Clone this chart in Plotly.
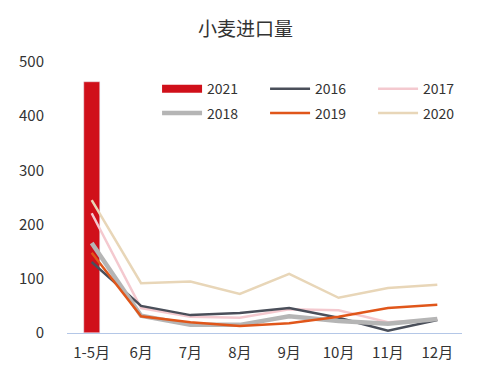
import plotly.graph_objects as go

categories = ["1-5月", "6月", "7月", "8月", "9月", "10月", "11月", "12月"]
bar_2021 = [463]
y2016 = [131, 50, 33, 37, 46, 28, 4, 24]
y2017 = [221, 46, 30, 28, 44, 42, 20, 25]
y2018 = [166, 32, 15, 15, 31, 22, 17, 26]
y2019 = [148, 31, 20, 13, 18, 30, 46, 52]
y2020 = [245, 92, 95, 72, 109, 65, 83, 89]

FONT = "Noto Sans CJK SC, Noto Sans, sans-serif"
fig = go.Figure()
fig.add_trace(go.Bar(x=categories[:1], y=bar_2021, name="2021", marker_color="#D0101A",
                     width=0.33, showlegend=False))
# legend entry for bar (wide rectangle)
fig.add_trace(go.Scatter(x=[None], y=[None], mode="lines", name="2021",
                         line=dict(color="#D0101A", width=8), legend="legend", legendrank=1))

series = {
    "2016": (y2016, "#4A4F5A", 2.5, "legend", 2),
    "2017": (y2017, "#F4C9CF", 2.5, "legend", 3),
    "2018": (y2018, "#B5B5B5", 4.5, "legend2", 4),
    "2019": (y2019, "#E0561A", 2.5, "legend2", 5),
    "2020": (y2020, "#E8D6B8", 2.5, "legend2", 6),
}
for name in ["2020", "2017", "2016", "2018", "2019"]:
    ys, col, w, lg, rank = series[name]
    fig.add_trace(go.Scatter(x=categories, y=ys, mode="lines", name=name,
                             line=dict(color=col, width=w), legend=lg, legendrank=rank))

legend_common = dict(orientation="h", entrywidth=53, entrywidthmode="pixels",
                     itemwidth=40, font=dict(family=FONT, size=14, color="#333333"),
                     bgcolor="rgba(0,0,0,0)", xanchor="left", yanchor="middle",
                     traceorder="normal")
fig.update_layout(
    width=491, height=368,
    margin=dict(l=67, r=29, t=62, b=35, autoexpand=False),
    paper_bgcolor="white", plot_bgcolor="white",
    title=dict(text="小麦进口量", x=0.5, xanchor="center", y=0.92, yanchor="middle",
               font=dict(family=FONT, size=19, color="#333333")),
    legend=dict(x=0.228, y=0.9, **legend_common),
    legend2=dict(x=0.228, y=0.81, **legend_common),
    xaxis=dict(type="category", range=[-0.5, 7.5], showgrid=False, showline=True,
               linecolor="#B4C7E7", linewidth=1, ticks="", automargin=False,
               ticklabelstandoff=6,
               tickfont=dict(family=FONT, size=15, color="#333333")),
    yaxis=dict(range=[0, 500], dtick=100, showgrid=False, showline=False, zeroline=False,
               ticks="", ticklabelstandoff=22, automargin=False,
               tickfont=dict(family=FONT, size=15, color="#333333")),
    bargap=0,
)
fig.write_html("out.html", config={"displayModeBar": False},
               post_script="document.body.style.margin='0';")
